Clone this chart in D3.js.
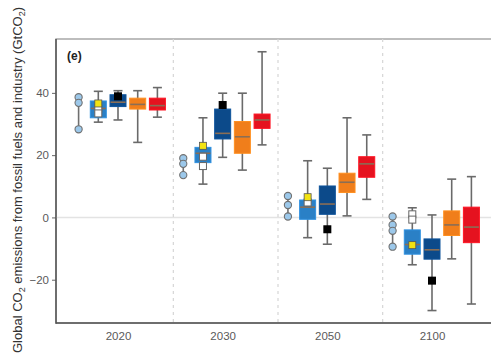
<!DOCTYPE html>
<html><head><meta charset="utf-8">
<script src="https://cdn.jsdelivr.net/npm/d3@7/dist/d3.min.js"></script>
<style>body{margin:0;background:#fff;} svg{display:block;font-family:"Liberation Sans",Arial,sans-serif;}</style>
</head><body>
<svg id="c" width="491" height="356"></svg>
<script>
// ---- data ----
const categories = ["2020", "2030", "2050", "2100"];
const yTicks = [-20, 0, 20, 40];
const seriesNames = ["points", "lightBlue", "darkBlue", "orange", "red"];
// individual points (light blue circles)
const circlePoints = [[38.6, 36.8, 28.3], [19.0, 17.2, 13.6], [6.9, 4.0, 0.3], [0.3, -2.4, -4.3, -9.4]];
// light blue boxes
const lbLow = [30.6, 10.7, -6.5, -15.2];
const lbQ1 = [32.0, 17.6, -0.6, -11.8];
const lbMed = [35.0, 20.6, 3.3, -8.7];
const lbQ3 = [37.4, 22.5, 5.6, -4.0];
const lbHigh = [40.5, 32.0, 18.2, 3.1];
const lbYellow = [36.6, 23.0, 6.5, -8.9];
const lbWhite = [[35.0, 33.4], [19.5, 16.5], [4.8], [1.0, -0.7]];
// dark blue boxes
const dbLow = [31.3, 19.3, -8.6, -29.9];
const dbQ1 = [35.6, 25.2, 1.0, -13.4];
const dbMed = [37.0, 27.0, 4.3, -10.4];
const dbQ3 = [39.4, 34.8, 10.1, -6.9];
const dbHigh = [40.7, 39.9, 15.8, 0.8];
const dbBlack = [38.9, 36.1, -3.8, -20.3];
// orange boxes
const orLow = [24.1, 15.2, 0.5, -13.3];
const orQ1 = [34.8, 20.6, 8.0, -5.8];
const orMed = [36.3, 25.9, 11.3, -2.4];
const orQ3 = [38.3, 30.8, 14.2, 2.1];
const orHigh = [40.7, 39.9, 32.0, 12.3];
// red boxes
const rdLow = [32.2, 23.3, 5.8, -27.8];
const rdQ1 = [34.5, 28.6, 12.9, -8.1];
const rdMed = [35.9, 31.3, 17.2, -3.1];
const rdQ3 = [38.3, 33.2, 19.5, 3.3];
const rdHigh = [41.7, 53.2, 26.5, 13.1];

const boxSeries = [
  {name: "lightBlue", fill: "#2a80c6", low: lbLow, q1: lbQ1, med: lbMed, q3: lbQ3, high: lbHigh},
  {name: "darkBlue", fill: "#0c4a8a", low: dbLow, q1: dbQ1, med: dbMed, q3: dbQ3, high: dbHigh},
  {name: "orange", fill: "#f07e1b", low: orLow, q1: orQ1, med: orMed, q3: orQ3, high: orHigh},
  {name: "red", fill: "#e5121f", low: rdLow, q1: rdQ1, med: rdMed, q3: rdQ3, high: rdHigh}
];

// ---- layout ----
const L = 56, T = 39, B = 323, R = 497;
const svg = d3.select("#c");
const y = d3.scaleLinear().domain([-33.9, 57.3]).range([B, T]);
const x = d3.scalePoint().domain(categories).range([118, 432]);
const step = x.step();
const dodge = d3.scalePoint().domain(seriesNames).range([-39.4, 39.4]);

// frame
svg.append("rect").attr("x", L).attr("y", T).attr("width", R - L).attr("height", B - T)
  .attr("fill", "none").attr("stroke", "#9a9a9a").attr("stroke-width", 1.3);
// zero line
svg.append("line").attr("x1", L).attr("x2", R).attr("y1", y(0)).attr("y2", y(0))
  .attr("stroke", "#e3e3e3").attr("stroke-width", 1.4);
// separators
categories.slice(0, 3).forEach(c => {
  svg.append("line").attr("x1", x(c) + step / 2 + 3).attr("x2", x(c) + step / 2 + 3)
    .attr("y1", T).attr("y2", B).attr("stroke", "#d6d6d6").attr("stroke-width", 1.2)
    .attr("stroke-dasharray", "3,4");
});

// axes
const yAxis = d3.axisLeft(y).tickValues(yTicks).tickSize(4).tickPadding(3).tickFormat(d3.format("d"));
const gy = svg.append("g").attr("transform", `translate(${L},0)`).call(yAxis);
gy.select(".domain").remove();
gy.selectAll("line").attr("stroke", "#666");
gy.selectAll("text").attr("fill", "#5a5a5a").style("font-size", "11.5px").text(d => d < 0 ? "\u2212" + Math.abs(d) : d);
const xAxis = d3.axisBottom(x).tickSize(0).tickPadding(9);
const gx = svg.append("g").attr("transform", `translate(0,${B})`).call(xAxis);
gx.select(".domain").remove();
gx.selectAll("text").attr("fill", "#5a5a5a").style("font-size", "11.5px");
svg.append("line").attr("x1", L).attr("x2", L).attr("y1", T).attr("y2", B + 0.7).attr("stroke", "#555").attr("stroke-width", 1.5);
svg.append("line").attr("x1", L).attr("x2", R).attr("y1", B).attr("y2", B).attr("stroke", "#555").attr("stroke-width", 1.5);

// y label
const yl = svg.append("text").attr("transform", `translate(22,180) rotate(-90)`)
  .attr("text-anchor", "middle").attr("fill", "#333").style("font-size", "13px");
yl.append("tspan").text("Global CO");
yl.append("tspan").text("2").attr("dy", 3).style("font-size", "9px");
yl.append("tspan").text(" emissions from fossil fuels and industry (GtCO").attr("dy", -3);
yl.append("tspan").text("2").attr("dy", 3).style("font-size", "9px");
yl.append("tspan").text(")").attr("dy", -3);

// panel tag
svg.append("text").attr("x", 67).attr("y", 60).attr("fill", "#222").style("font-size", "12px").style("font-weight", "bold").text("(e)");

// circles series
const pts = svg.append("g");
categories.forEach((c, i) => {
  const cx = x(c) + dodge("points");
  const vals = circlePoints[i];
  pts.append("line").attr("x1", cx).attr("x2", cx).attr("y1", y(d3.max(vals))).attr("y2", y(d3.min(vals)))
    .attr("stroke", "#6f6f6f").attr("stroke-width", 1.6);
  pts.selectAll(null).data(vals).enter().append("circle")
    .attr("cx", cx).attr("cy", d => y(d)).attr("r", 3.6)
    .attr("fill", "#9cc8ea").attr("stroke", "#707070").attr("stroke-width", 1.1);
});

// boxes
const bw = 16, cap = 9;
boxSeries.forEach(s => {
  const g = svg.append("g");
  categories.forEach((c, i) => {
    const cx = x(c) + dodge(s.name);
    g.append("line").attr("x1", cx).attr("x2", cx).attr("y1", y(s.high[i])).attr("y2", y(s.low[i]))
      .attr("stroke", "#6a6a6a").attr("stroke-width", 1.6);
    [s.high[i], s.low[i]].forEach(v => g.append("line").attr("x1", cx - cap / 2).attr("x2", cx + cap / 2)
      .attr("y1", y(v)).attr("y2", y(v)).attr("stroke", "#6a6a6a").attr("stroke-width", 1.6));
    g.append("rect").attr("x", cx - bw / 2).attr("width", bw)
      .attr("y", y(s.q3[i])).attr("height", y(s.q1[i]) - y(s.q3[i]))
      .attr("fill", s.fill).attr("stroke", d3.color(s.fill).brighter(0.35)).attr("stroke-width", 1);
    g.append("line").attr("x1", cx - bw / 2 + 0.5).attr("x2", cx + bw / 2 - 0.5)
      .attr("y1", y(s.med[i])).attr("y2", y(s.med[i])).attr("stroke", "#8a6e55").attr("stroke-width", 1.6);
  });
});

// markers
const mk = svg.append("g");
categories.forEach((c, i) => {
  const cxl = x(c) + dodge("lightBlue");
  lbWhite[i].forEach(v => mk.append("rect").attr("x", cxl - 3.5).attr("y", y(v) - 3.5).attr("width", 7).attr("height", 7)
    .attr("fill", "#fff").attr("stroke", "#666").attr("stroke-width", 1));
  mk.append("rect").attr("x", cxl - 3.5).attr("y", y(lbYellow[i]) - 3.5).attr("width", 7).attr("height", 7)
    .attr("fill", "#f3e312").attr("stroke", "#555").attr("stroke-width", 0.8);
  const cxd = x(c) + dodge("darkBlue");
  mk.append("rect").attr("x", cxd - 4).attr("y", y(dbBlack[i]) - 4).attr("width", 8).attr("height", 8)
    .attr("fill", "#000");
});
</script>
</body></html>
